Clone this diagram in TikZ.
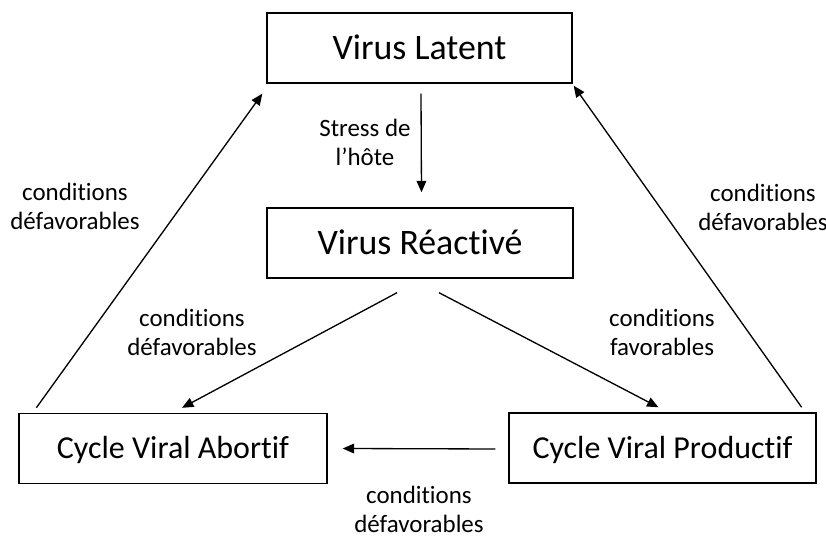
\documentclass[tikz,border=0pt]{standalone}
\usepackage{fontspec}
\setmainfont{Carlito}[Ligatures=NoCommon]
\usetikzlibrary{arrows.meta, positioning, calc}

\begin{document}
\begin{tikzpicture}[x=0.02cm, y=-0.02cm,
    etat/.style={draw, line width=0.8pt, minimum height=1.4cm, inner sep=0pt,
                 text height=13.1pt, text depth=0pt,
                 font=\fontsize{20.4}{24}\selectfont},
    cycle/.style={etat, text height=11.7pt, font=\fontsize{18.2}{22}\selectfont},
    note/.style={align=center, font=\fontsize{14.2}{16.5}\selectfont},
    fleche/.style={-{Triangle[length=6.5pt, width=5.5pt]}, line width=0.75pt}]
            \useasboundingbox (0,0) rectangle (826,536);
            \node[etat, minimum width=6.1cm]   (lat) at (419.5, 48)  {Virus Latent};
            \node[etat, minimum width=6.12cm]  (rea) at (420, 243)   {Virus Réactivé};
            \node[cycle, minimum width=6.16cm] (abo) at (173, 448.5) {Cycle Viral Abortif};
            \node[cycle, minimum width=6.14cm] (pro) at (662.5, 448) {Cycle Viral Productif};
            \node[note] (stress) at (365, 142) {Stress de\\l’hôte};
            \node[note] (defg)   at (75, 206)  {conditions\\défavorables};
            \node[note] (defd)   at (763, 207) {conditions\\défavorables};
            \node[note] (defm)   at (192, 332) {conditions\\défavorables};
            \node[note] (fav)    at (662, 332) {conditions\\favorables};
            \node[note] (defb)   at (419, 509) {conditions\\défavorables};
            \draw[fleche] ([shift={(1.5,10)}]lat.south) -- ([shift={(1.5,-15)}]rea.north);
            \draw[fleche] ([shift={(18,-5)}]abo.north west) -- ([shift={(-4,10)}]lat.south west);
            \draw[fleche] ([shift={(-15,-5)}]pro.north east) -- ([shift={(1,2)}]lat.south east);
            \draw[fleche] ([shift={(-23,14)}]rea.south) -- ([shift={(9,-5)}]abo.north);
            \draw[fleche] ([shift={(19,14)}]rea.south) -- ([shift={(-4,-5)}]pro.north);
            \draw[fleche] ([shift={(-13,1)}]pro.west) -- ([shift={(15,0)}]abo.east);
          \end{tikzpicture}
\end{document}
